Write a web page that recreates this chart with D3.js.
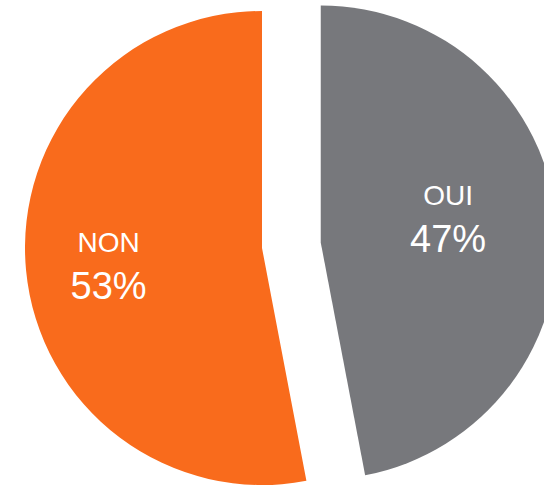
<!DOCTYPE html>
<html>
<head>
<meta charset="utf-8">
<script src="https://cdn.jsdelivr.net/npm/d3@7"></script>
<style>
  html, body { margin: 0; padding: 0; background: #fff; }
  svg { display: block; }
  .lbl { fill: #fff; font-family: "Liberation Sans", Arial, sans-serif; text-anchor: middle; }
</style>
</head>
<body>
<div id="chart"></div>
<script>
// data
var labels = ["OUI", "NON"];
var values = [47, 53];
var colors = ["#77787c", "#f96b1c"];

var width = 544, height = 485;
var radius = 237;
var cx = 262, cy = 248;     // base centre (NON slice stays here)
var explode = [59, 0];      // only OUI is pulled out
var labelRadius = 140;
// small nudges so text sits like the original
var nudge = [[-12, -24], [-14, -9]];

var svg = d3.select('#chart')
    .append('svg')
    .attr('width', width)
    .attr('height', height);

var dataset = labels.map(function (l, i) {
    return { label: l, count: values[i] };
});

var pie = d3.pie()
    .value(function (d) { return d.count; })
    .sort(null);

var arc = d3.arc()
    .innerRadius(0)
    .outerRadius(radius);

var labelArc = d3.arc()
    .innerRadius(labelRadius)
    .outerRadius(labelRadius);

var total = d3.sum(values);

var slices = svg.selectAll('g.slice')
    .data(pie(dataset))
    .enter()
    .append('g')
    .attr('class', 'slice')
    .attr('transform', function (d, i) {
        var mid = (d.startAngle + d.endAngle) / 2;
        var dx = explode[i] * Math.sin(mid);
        var dy = -explode[i] * Math.cos(mid);
        return 'translate(' + (cx + dx) + ',' + (cy + dy) + ')';
    });

slices.append('path')
    .attr('d', arc)
    .attr('fill', function (d, i) { return colors[i]; });

var txt = slices.append('text')
    .attr('class', 'lbl')
    .attr('transform', function (d, i) {
        var c = labelArc.centroid(d);
        return 'translate(' + (c[0] + nudge[i][0]) + ',' + (c[1] + nudge[i][1]) + ')';
    });

txt.append('tspan')
    .attr('x', 0)
    .attr('y', 0)
    .style('font-size', '28px')
    .text(function (d) { return d.data.label; });

txt.append('tspan')
    .attr('x', 0)
    .attr('y', 47)
    .style('font-size', '38px')
    .text(function (d) { return Math.round(100 * d.data.count / total) + '%'; });
</script>
</body>
</html>
